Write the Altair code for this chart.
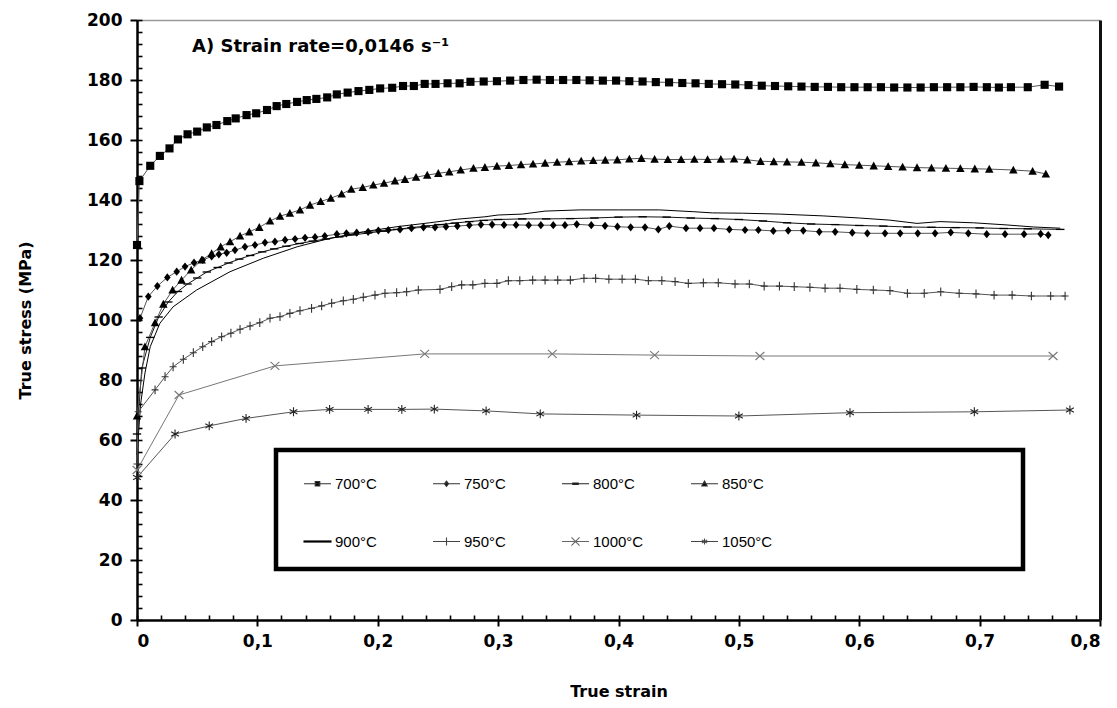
import altair as alt
import pandas as pd

series_names = ["700°C", "750°C", "800°C", "850°C", "900°C", "950°C", "1000°C", "1050°C"]

s700 = [(0.0, 125.0), (0.002, 146.3), (0.011, 151.4), (0.019, 154.7), (0.027, 157.2), (0.034, 160.2),
        (0.042, 161.9), (0.050, 162.8), (0.058, 164.2), (0.066, 165.0), (0.075, 166.3), (0.082, 167.2),
        (0.091, 168.3), (0.099, 168.9), (0.108, 170.0), (0.116, 171.3), (0.124, 172.0), (0.133, 172.7),
        (0.141, 173.3), (0.149, 173.7), (0.158, 174.2), (0.166, 175.2), (0.175, 175.8), (0.184, 176.3),
        (0.193, 176.7), (0.202, 177.2), (0.212, 177.4), (0.221, 178.0), (0.230, 178.0), (0.239, 178.7),
        (0.248, 178.7), (0.258, 178.9), (0.268, 178.9), (0.277, 179.4), (0.288, 179.5), (0.299, 179.6),
        (0.310, 179.8), (0.321, 180.0), (0.332, 180.1), (0.343, 180.0), (0.354, 180.0), (0.365, 180.0),
        (0.376, 179.9), (0.387, 179.8), (0.398, 179.8), (0.409, 179.6), (0.420, 179.5), (0.431, 179.3),
        (0.442, 179.2), (0.453, 179.0), (0.464, 178.9), (0.475, 178.7), (0.486, 178.6), (0.497, 178.5),
        (0.508, 178.3), (0.519, 178.1), (0.530, 178.0), (0.541, 177.9), (0.552, 177.8), (0.563, 177.7),
        (0.574, 177.7), (0.585, 177.6), (0.596, 177.6), (0.607, 177.6), (0.618, 177.6), (0.629, 177.5),
        (0.640, 177.5), (0.651, 177.5), (0.662, 177.6), (0.673, 177.6), (0.684, 177.6), (0.695, 177.7),
        (0.706, 177.6), (0.716, 177.5), (0.726, 177.6), (0.740, 177.6), (0.754, 178.4), (0.766, 177.8)]

s750 = [(0.0025, 100.6), (0.0094, 107.8), (0.0169, 111.3), (0.0252, 114.2), (0.033, 116.1),
        (0.0399, 117.8), (0.0474, 119.1), (0.0546, 120.0), (0.062, 121.2), (0.068, 121.9), (0.0745, 122.4),
        (0.0814, 123.3), (0.0897, 124.4), (0.098, 125.0), (0.1063, 125.8), (0.1146, 126.1), (0.123, 126.7),
        (0.1313, 127.0), (0.1396, 127.4), (0.1479, 127.6), (0.156, 128.0), (0.166, 128.6), (0.174, 128.9),
        (0.1825, 129.1), (0.192, 129.4), (0.2005, 129.8), (0.2088, 130.0), (0.2185, 130.2), (0.228, 130.6),
        (0.238, 130.9), (0.2476, 130.9), (0.2567, 131.1), (0.2661, 131.3), (0.2761, 131.6), (0.2857, 131.8),
        (0.2950, 131.8), (0.3049, 131.7), (0.3149, 131.7), (0.3254, 131.6), (0.3355, 131.6), (0.3458, 131.6),
        (0.3555, 131.6), (0.3653, 131.9), (0.3774, 131.6), (0.3888, 131.4), (0.3991, 131.1), (0.4101, 130.9),
        (0.4220, 130.9), (0.4331, 130.2), (0.4422, 131.3), (0.4561, 130.6), (0.4677, 130.6), (0.4793, 130.6),
        (0.4921, 130.2), (0.5051, 130.0), (0.5162, 130.0), (0.5286, 129.7), (0.541, 129.8), (0.5535, 129.8),
        (0.5668, 129.4), (0.580, 129.4), (0.5942, 129.1), (0.6067, 128.9), (0.6214, 128.9), (0.634, 128.9),
        (0.6486, 128.9), (0.663, 128.9), (0.676, 129.2), (0.6906, 128.9), (0.7059, 128.6), (0.7211, 128.6),
        (0.7369, 128.6), (0.7507, 128.7), (0.757, 128.3)]

s800 = [(0.0, 62.0), (0.004, 84.0), (0.011, 94.2), (0.018, 101.0), (0.026, 106.0), (0.034, 109.5),
        (0.042, 112.0), (0.050, 114.0), (0.058, 116.0), (0.067, 117.5), (0.076, 119.0), (0.085, 120.3),
        (0.094, 121.5), (0.104, 122.7), (0.114, 123.7), (0.124, 124.6), (0.135, 125.5), (0.146, 126.3),
        (0.157, 127.0), (0.168, 127.7), (0.180, 128.4), (0.192, 129.0), (0.204, 129.6), (0.216, 130.2),
        (0.228, 130.8), (0.240, 131.3), (0.252, 131.8), (0.264, 132.3), (0.276, 132.8), (0.288, 133.2),
        (0.300, 133.5), (0.320, 133.7), (0.340, 133.7), (0.360, 133.8), (0.380, 134.0), (0.400, 134.3),
        (0.420, 134.4), (0.440, 134.3), (0.460, 134.0), (0.480, 133.8), (0.500, 133.5), (0.520, 133.0),
        (0.540, 132.4), (0.560, 132.0), (0.580, 131.8), (0.600, 131.5), (0.620, 131.3), (0.640, 131.0),
        (0.660, 130.9), (0.680, 130.8), (0.700, 130.7), (0.720, 130.5), (0.740, 130.4), (0.767, 130.2)]

s850 = [(0.0, 68.0), (0.0066, 91.1), (0.015, 99.1), (0.0219, 105.3), (0.0296, 110.0), (0.037, 113.3),
        (0.045, 116.7), (0.0537, 120.0), (0.062, 122.2), (0.0695, 124.4), (0.0773, 126.1), (0.0856, 128.0),
        (0.0933, 129.4), (0.1016, 130.9), (0.1105, 133.0), (0.1188, 134.6), (0.127, 135.6), (0.1354, 136.7),
        (0.1437, 138.3), (0.1526, 139.5), (0.161, 140.6), (0.170, 142.0), (0.178, 143.6), (0.1875, 144.2),
        (0.1963, 145.0), (0.2052, 145.6), (0.2143, 146.4), (0.2226, 146.9), (0.2318, 147.6), (0.2411, 148.3),
        (0.2503, 148.9), (0.2594, 149.4), (0.2689, 150.0), (0.2795, 150.6), (0.289, 150.9), (0.299, 151.3),
        (0.309, 151.5), (0.319, 151.8), (0.329, 152.0), (0.339, 152.3), (0.349, 152.6), (0.359, 152.8),
        (0.369, 153.0), (0.379, 153.2), (0.389, 153.3), (0.399, 153.4), (0.409, 153.7), (0.419, 153.9),
        (0.430, 153.6), (0.441, 153.5), (0.452, 153.5), (0.463, 153.6), (0.474, 153.5), (0.485, 153.6),
        (0.496, 153.7), (0.507, 153.4), (0.518, 152.9), (0.529, 152.8), (0.540, 152.7), (0.552, 152.6),
        (0.564, 152.4), (0.576, 152.1), (0.588, 151.8), (0.600, 151.6), (0.612, 151.4), (0.624, 151.2),
        (0.636, 151.0), (0.648, 150.8), (0.660, 150.7), (0.672, 150.6), (0.684, 150.5), (0.696, 150.4),
        (0.708, 150.3), (0.728, 150.0), (0.744, 149.6), (0.755, 148.7)]

s900 = [(0.0, 55.0), (0.003, 72.0), (0.0066, 82.3), (0.011, 91.1), (0.019, 98.9), (0.030, 104.4),
        (0.0495, 110.0), (0.0773, 116.1), (0.105, 120.6), (0.133, 124.4), (0.160, 127.2), (0.188, 129.4),
        (0.216, 131.1), (0.243, 132.4), (0.266, 133.6), (0.289, 134.4), (0.300, 135.0), (0.320, 135.3),
        (0.339, 136.3), (0.368, 136.7), (0.400, 136.7), (0.434, 136.7), (0.462, 136.1), (0.478, 135.7),
        (0.503, 135.6), (0.534, 135.3), (0.570, 134.7), (0.600, 134.0), (0.625, 133.3), (0.648, 132.2),
        (0.667, 132.8), (0.695, 132.4), (0.722, 131.7), (0.745, 131.0), (0.767, 130.6)]

s950 = [(0.0, 52.0), (0.001, 69.4), (0.015, 76.7), (0.0233, 81.1), (0.030, 84.4), (0.0385, 86.9),
        (0.0468, 89.1), (0.0546, 91.1), (0.062, 92.8), (0.0703, 94.4), (0.078, 95.6), (0.0856, 96.9),
        (0.0939, 98.0), (0.102, 99.1), (0.1105, 100.6), (0.1188, 101.1), (0.127, 102.2), (0.1354, 103.1),
        (0.145, 103.9), (0.1534, 104.7), (0.1617, 105.6), (0.1714, 106.4), (0.1797, 106.9), (0.188, 107.6),
        (0.1977, 108.3), (0.206, 108.9), (0.2157, 109.1), (0.224, 109.4), (0.2337, 110.0), (0.2517, 110.2),
        (0.2614, 111.1), (0.2697, 111.7), (0.279, 111.7), (0.289, 112.2), (0.299, 112.2), (0.3085, 113.1),
        (0.318, 113.1), (0.3287, 113.3), (0.339, 113.3), (0.3495, 113.3), (0.360, 113.3), (0.3713, 113.9),
        (0.381, 113.9), (0.392, 113.6), (0.403, 113.6), (0.414, 113.6), (0.4248, 113.1), (0.436, 113.1),
        (0.447, 112.8), (0.458, 112.2), (0.4705, 112.4), (0.4829, 112.4), (0.4968, 112.0), (0.5087, 112.0),
        (0.521, 111.3), (0.5337, 111.3), (0.546, 111.1), (0.559, 110.9), (0.5716, 110.6), (0.584, 110.6),
        (0.598, 110.2), (0.6117, 110.0), (0.6255, 109.8), (0.640, 108.9), (0.654, 108.9), (0.6677, 109.4),
        (0.683, 108.9), (0.697, 108.7), (0.712, 108.3), (0.727, 108.3), (0.743, 108.0), (0.759, 108.0),
        (0.771, 108.0)]

s1000 = [(0.0, 50.0), (0.0349, 75.0), (0.1146, 84.7), (0.239, 88.7), (0.345, 88.7), (0.430, 88.3),
         (0.5175, 88.0), (0.761, 88.0)]

s1050 = [(0.0, 47.5), (0.0316, 62.0), (0.060, 64.7), (0.0906, 67.2), (0.130, 69.4), (0.160, 70.2),
         (0.192, 70.2), (0.220, 70.2), (0.247, 70.3), (0.290, 69.7), (0.335, 68.7), (0.415, 68.3),
         (0.500, 68.0), (0.5923, 69.1), (0.6956, 69.4), (0.775, 70.0)]

x_major = [0, 0.1, 0.2, 0.3, 0.4, 0.5, 0.6, 0.7, 0.8]
x_minor = [round(i * 0.02, 2) for i in range(41)]
y_major = list(range(0, 201, 20))
y_minor = list(range(0, 201, 4))

title_text = "A) Strain rate=0,0146 s\u207b\u00b9"

# ---- styles ----
line_colors = ["#555555", "#555555", "#111111", "#555555", "#000000", "#555555", "#777777", "#555555"]
line_widths = [1.0, 1.0, 1.6, 1.0, 2.2, 1.0, 1.2, 1.0]
marker_paths = [
    "M-1,-1H1V1H-1Z",
    "M0,-1L0.8,0L0,1L-0.8,0Z",
    "M-1,-0.16H1V0.16H-1Z",
    "M0,-1L1,0.85H-1Z",
    "M0,0",
    "M-0.8,0H0.8M0,-1V1",
    "M-1,-0.9L1,0.9M-1,0.9L1,-0.9",
    "M0,-1V1M-0.87,-0.5L0.87,0.5M-0.87,0.5L0.87,-0.5",
]
marker_sizes = [66, 80, 64, 81, 1, 100, 225, 130]
marker_colors = ["#000000", "#000000", "#000000", "#000000", "#000000", "#333333", "#777777", "#222222"]
legend_paths = [
    "M-1,0H1M-0.17,-0.17H0.17V0.17H-0.17Z",
    "M-1,0H1M0,-0.2L0.15,0L0,0.2L-0.15,0Z",
    "M-1,0H1M-0.2,-0.05H0.2V0.05H-0.2Z",
    "M-1,0H1M0,-0.2L0.2,0.17H-0.2Z",
    "M-1,-0.04H1V0.04H-1Z",
    "M-1,0H1M0,-0.3V0.3",
    "M-1,0H1M-0.3,-0.3L0.3,0.3M-0.3,0.3L0.3,-0.3",
    "M-1,0H1M0,-0.22V0.22M-0.2,-0.12L0.2,0.12M-0.2,0.12L0.2,-0.12",
]
legend_fill = ["#000000", "#000000", "#000000", "#000000", "#000000", "#444444", "#666666", "#444444"]
legend_stroke = ["#333333", "#333333", "#222222", "#333333", "#000000", "#444444", "#666666", "#444444"]

curves = {"700°C": s700, "750°C": s750, "800°C": s800, "850°C": s850,
          "900°C": s900, "950°C": s950, "1000°C": s1000, "1050°C": s1050}
rows = [{"series": name, "strain": sx, "stress": sy}
        for name, pts in curves.items() for sx, sy in pts]
df = pd.DataFrame(rows)

FONT = "Liberation Sans"
BOLD_FONT = "DejaVu Sans"
xscale = alt.Scale(domain=[0, 0.8], nice=False, zero=False)
yscale = alt.Scale(domain=[0, 200], nice=False, zero=False)
label_expr = "datum.value == 0 ? '0' : replace(format(datum.value, '.1f'), '.', ',')"

x_main = alt.Axis(values=x_major, labelExpr=label_expr, orient="bottom", tickSize=6, tickWidth=2,
                  domainWidth=2.5, labelPadding=7, title="True strain", titleY=71,
                  titleBaseline="middle")
y_main = alt.Axis(values=y_major, orient="left", tickSize=7, tickWidth=2, domainWidth=2.5,
                  labelPadding=8, title="True stress (MPa)", titleX=-112, titleY=300,
                  titleBaseline="middle", titleAngle=270)
x_minor_axis = alt.Axis(values=x_minor, orient="bottom", tickSize=5, tickWidth=1.6, offset=-5,
                        domain=False, labels=False, title=None)
y_minor_axis = alt.Axis(values=y_minor, orient="left", tickSize=5, tickWidth=1.6, offset=-5,
                        domain=False, labels=False, title=None)
x_top_axis = alt.Axis(orient="top", ticks=False, labels=False, domainColor="#999999",
                      domainWidth=1.5, title=None)
y_right_axis = alt.Axis(orient="right", ticks=False, labels=False, domainColor="#111111",
                        domainWidth=3, title=None)

base = alt.Chart(df)

lines = base.mark_line(interpolate="linear").encode(
    x=alt.X("strain:Q", scale=xscale, axis=x_main),
    y=alt.Y("stress:Q", scale=yscale, axis=y_main),
    detail="series:N",
    color=alt.Color("series:N", scale=alt.Scale(domain=series_names, range=line_colors), legend=None),
    strokeWidth=alt.StrokeWidth("series:N", scale=alt.Scale(domain=series_names, range=line_widths),
                                legend=None),
)

filled_pts = base.transform_filter(
    alt.FieldOneOfPredicate(field="series", oneOf=["700°C", "750°C", "800°C", "850°C"])
).mark_point(filled=True, opacity=1).encode(
    x=alt.X("strain:Q", scale=xscale, axis=x_minor_axis),
    y=alt.Y("stress:Q", scale=yscale, axis=y_minor_axis),
    shape=alt.Shape("series:N", scale=alt.Scale(domain=series_names, range=marker_paths), legend=None),
    size=alt.Size("series:N", scale=alt.Scale(domain=series_names, range=marker_sizes), legend=None),
    color=alt.Color("series:N", scale=alt.Scale(domain=series_names, range=marker_colors), legend=None),
)

stroke_pts = base.transform_filter(
    alt.FieldOneOfPredicate(field="series", oneOf=["950°C", "1000°C", "1050°C"])
).mark_point(filled=False, opacity=1, strokeWidth=1.1).encode(
    x=alt.X("strain:Q", scale=xscale, axis=x_top_axis),
    y=alt.Y("stress:Q", scale=yscale, axis=y_right_axis),
    shape=alt.Shape("series:N", scale=alt.Scale(domain=series_names, range=marker_paths), legend=None),
    size=alt.Size("series:N", scale=alt.Scale(domain=series_names, range=marker_sizes), legend=None),
    color=alt.Color("series:N", scale=alt.Scale(domain=series_names, range=marker_colors), legend=None),
)

leg = alt.Legend(
    title="\u2002", titleOrient="right", titlePadding=232,
    orient="none", legendX=139, legendY=430, direction="horizontal", columns=4,
    columnPadding=38, rowPadding=35,
    padding=19, symbolSize=729, symbolStrokeWidth=1.1, labelFont=FONT, labelFontSize=15,
    labelOffset=3, labelColor="black", strokeColor="black", fillColor="white", gridAlign="all",
    symbolOffset=8,
)

legend_layer = base.transform_filter("false").mark_point(filled=True, strokeWidth=1.1, opacity=1).encode(
    x=alt.X("strain:Q", scale=xscale, axis=None),
    y=alt.Y("stress:Q", scale=yscale, axis=None),
    shape=alt.Shape("series:N", scale=alt.Scale(domain=series_names, range=legend_paths), legend=leg),
    fill=alt.Fill("series:N", scale=alt.Scale(domain=series_names, range=legend_fill), legend=leg),
    stroke=alt.Stroke("series:N", scale=alt.Scale(domain=series_names, range=legend_stroke), legend=leg),
)

chart = alt.layer(lines, filled_pts, stroke_pts, legend_layer).resolve_axis(
    x="independent", y="independent"
).resolve_scale(
    color="independent", shape="independent", size="independent",
    fill="independent", stroke="independent", strokeWidth="independent",
).properties(
    width=963, height=600,
    padding={"left": 129, "top": 12, "right": 9, "bottom": 80},
    autosize="none",
    title=alt.TitleParams(text=title_text, anchor="start", frame="group", orient="top",
                          dx=55, dy=54, offset=0, baseline="middle", fontSize=18,
                          fontWeight="bold", font=BOLD_FONT, color="black"),
).configure_view(stroke=None).configure_axis(
    grid=False, labelFont=BOLD_FONT, labelFontWeight="bold", labelFontSize=17, labelColor="black",
    titleFont=BOLD_FONT, titleFontWeight="bold", titleFontSize=16, titleColor="black",
    tickColor="black", domainColor="black",
).configure_legend(strokeWidth=4.5)

chart.save("out.html", embed_options={"renderer": "svg", "actions": False})
